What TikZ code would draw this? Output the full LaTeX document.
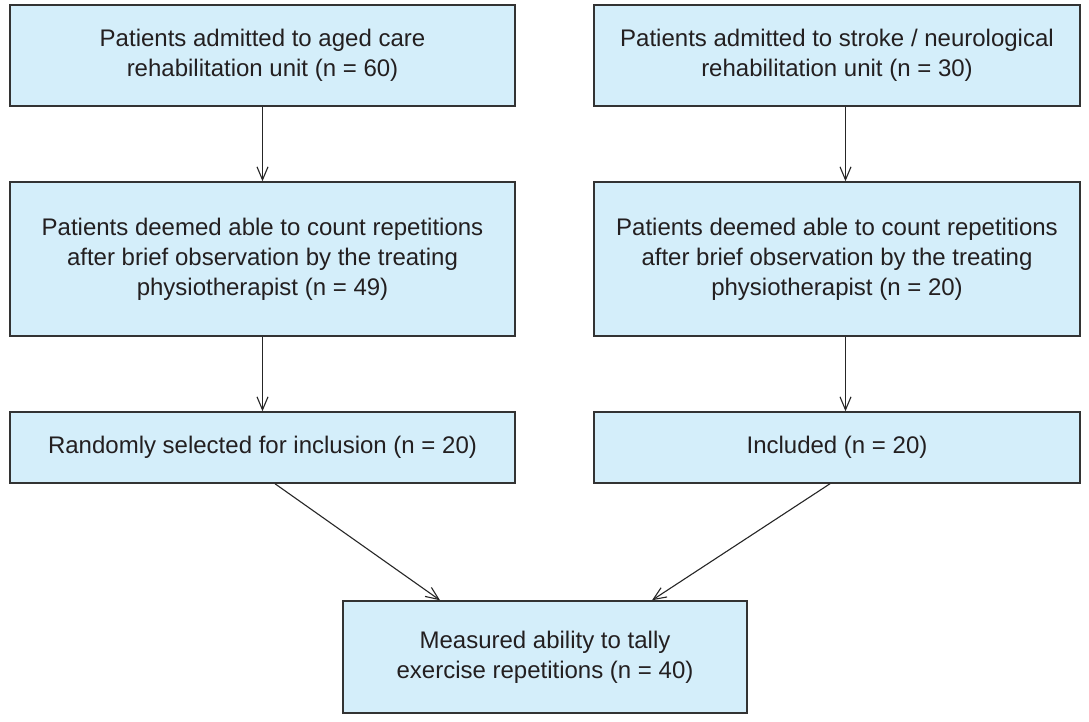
\documentclass[tikz,border=0pt]{standalone}
\usepackage{fontspec}
\setmainfont{Liberation Sans}
\usetikzlibrary{arrows.meta,calc}
\definecolor{boxfill}{HTML}{D4EEFA}
\definecolor{boxline}{HTML}{333333}
\definecolor{txt}{HTML}{231F20}
\begin{document}
\begin{tikzpicture}[x=1bp,y=-1bp,
  box/.style={draw=boxline, line width=1.5bp, fill=boxfill, text=txt, align=center,
    font=\fontsize{24bp}{30bp}\selectfont, inner sep=0pt},
  lbox/.style={box, minimum width=505bp},
  rbox/.style={box, minimum width=486bp},
  conn/.style={draw=black!85, line width=1.1bp, -{Straight Barb[length=13bp,width=11bp]}}]
\useasboundingbox[fill=white] (0,0) rectangle (1089,722);
\node[lbox, minimum height=101bp] (b1) at (262.5,55.5) {Patients admitted to aged care\\rehabilitation unit (n = 60)};
\node[rbox, minimum height=101bp] (b2) at (837,55.5) {Patients admitted to stroke / neurological\\rehabilitation unit (n = 30)};
\node[lbox, minimum height=154bp] (b3) at (262.5,259) {Patients deemed able to count repetitions\\after brief observation by the treating\\physiotherapist (n = 49)};
\node[rbox, minimum height=154bp] (b4) at (837,259) {Patients deemed able to count repetitions\\after brief observation by the treating\\physiotherapist (n = 20)};
\node[lbox, minimum height=71bp] (b5) at (262.5,447.5) {Randomly selected for inclusion (n = 20)};
\node[rbox, minimum height=71bp] (b6) at (837,447.5) {Included (n = 20)};
\node[box, minimum width=404bp, minimum height=112bp] (b7) at (545,657) {Measured ability to tally\\exercise repetitions (n = 40)};
\draw[conn] (b1.south) -- (b3.north);
\draw[conn] (b3.south) -- (b5.north);
\draw[conn] ([xshift=8.5bp]b2.south) -- ([xshift=8.5bp]b4.north);
\draw[conn] ([xshift=8.5bp]b4.south) -- ([xshift=8.5bp]b6.north);
\draw[conn] ([xshift=12.5bp]b5.south) -- ([xshift=-105bp]b7.north);
\draw[conn] ([xshift=-7bp]b6.south) -- ([xshift=107bp]b7.north);
\end{tikzpicture}
\end{document}
